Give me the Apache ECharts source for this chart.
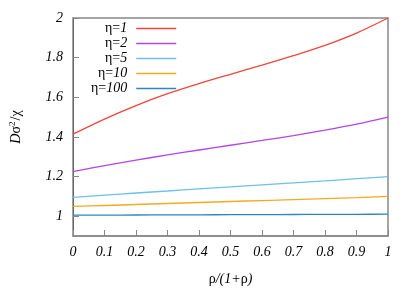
<!DOCTYPE html>
<html>
<head>
<meta charset="utf-8">
<script src="https://cdn.jsdelivr.net/npm/echarts@6/dist/echarts.min.js"></script>
<style>
html,body{margin:0;padding:0;background:#fff;}
#c{width:415px;height:291px;}
</style>
</head>
<body>
<div id="c"></div>
<script>
var xValues = [0, 0.1, 0.2, 0.3, 0.4, 0.5, 0.6, 0.7, 0.8, 0.9, 1];
var eta1   = [1.414, 1.490, 1.558, 1.618, 1.669, 1.716, 1.762, 1.810, 1.862, 1.924, 2.0];
var eta2   = [1.225, 1.255, 1.283, 1.309, 1.334, 1.358, 1.382, 1.407, 1.434, 1.464, 1.5];
var eta5   = [1.095, 1.106, 1.117, 1.127, 1.138, 1.148, 1.158, 1.168, 1.178, 1.189, 1.2];
var eta10  = [1.049, 1.054, 1.059, 1.064, 1.069, 1.074, 1.079, 1.084, 1.089, 1.094, 1.1];
var eta100 = [1.005, 1.0055, 1.006, 1.0065, 1.007, 1.0075, 1.008, 1.0085, 1.009, 1.0095, 1.01];
var seriesNames = ['η=1', 'η=2', 'η=5', 'η=10', 'η=100'];
var seriesColors = ['#f0453c', '#b146e6', '#6dc0ec', '#f2ab21', '#2c86c4'];
var yTicks = [1, 1.2, 1.4, 1.6, 1.8, 2];

var allData = [eta1, eta2, eta5, eta10, eta100];
function pairs(arr) { return xValues.map(function (x, i) { return [x, arr[i]]; }); }

var serif = '"Liberation Serif", "DejaVu Serif", serif';
var chart = echarts.init(document.getElementById('c'));
chart.setOption({
  animation: false,
  backgroundColor: '#fff',
  grid: { left: 73, right: 27, top: 18, bottom: 49, show: true, borderColor: '#888', borderWidth: 1.5 },
  legend: {
    orient: 'vertical', align: 'right', left: 91, top: 21, padding: 0, itemGap: 0,
    icon: 'rect', itemWidth: 40, itemHeight: 1.6,
    data: seriesNames,
    formatter: function (name) {
      var parts = name.split('=');
      return '{u|' + parts[0] + '=}{i|' + parts[1] + '}';
    },
    textStyle: {
      fontFamily: serif, fontSize: 14, color: '#000', lineHeight: 15, padding: [0, 4, 0, 0],
      rich: {
        u: { fontFamily: serif, fontSize: 14, color: '#000', lineHeight: 15 },
        i: { fontFamily: serif, fontSize: 14, fontStyle: 'italic', color: '#000', lineHeight: 15 }
      }
    }
  },
  xAxis: {
    type: 'value', min: 0, max: 1, interval: 0.1,
    name: '{u|ρ}{i|/(1+}{u|ρ}{i|)}', nameLocation: 'middle', nameGap: 36,
    nameTextStyle: {
      rich: {
        u: { fontFamily: serif, fontSize: 14, color: '#000' },
        i: { fontFamily: serif, fontSize: 14, fontStyle: 'italic', color: '#000' }
      }
    },
    axisLine: { show: true, lineStyle: { color: '#888', width: 1.5 } },
    axisTick: { show: true, inside: true, length: 6, lineStyle: { color: '#888', width: 1 } },
    axisLabel: {
      fontFamily: serif, fontSize: 14, fontStyle: 'italic', color: '#000', margin: 9,
      formatter: function (v) { return String(Math.round(v * 10) / 10); }
    },
    splitLine: { show: false }
  },
  yAxis: {
    type: 'value', min: 0.9, max: 2,
    name: '{i|D}{u|σ}{s|2}{u|/χ}', nameLocation: 'middle', nameGap: 49, nameRotate: 90,
    nameTextStyle: {
      rich: {
        u: { fontFamily: serif, fontSize: 14, color: '#000', lineHeight: 16 },
        i: { fontFamily: serif, fontSize: 14, fontStyle: 'italic', color: '#000', lineHeight: 16 },
        s: { fontFamily: serif, fontSize: 9, color: '#000', verticalAlign: 'top', lineHeight: 16, padding: [0, 1, 7, 0] }
      }
    },
    axisLine: { show: true, lineStyle: { color: '#666', width: 1 } },
    axisTick: { show: true, inside: true, length: 6, customValues: yTicks, lineStyle: { color: '#888', width: 1 } },
    axisLabel: {
      fontFamily: serif, fontSize: 14, fontStyle: 'italic', color: '#000', margin: 10,
      customValues: yTicks,
      formatter: function (v) { return String(Math.round(v * 10) / 10); }
    },
    splitLine: { show: false }
  },
  series: allData.map(function (arr, k) {
    return {
      name: seriesNames[k], type: 'line', data: pairs(arr), smooth: 0.3,
      showSymbol: false, symbol: 'none', color: seriesColors[k],
      lineStyle: { width: 1.3, color: seriesColors[k] }
    };
  })
});
</script>
</body>
</html>
